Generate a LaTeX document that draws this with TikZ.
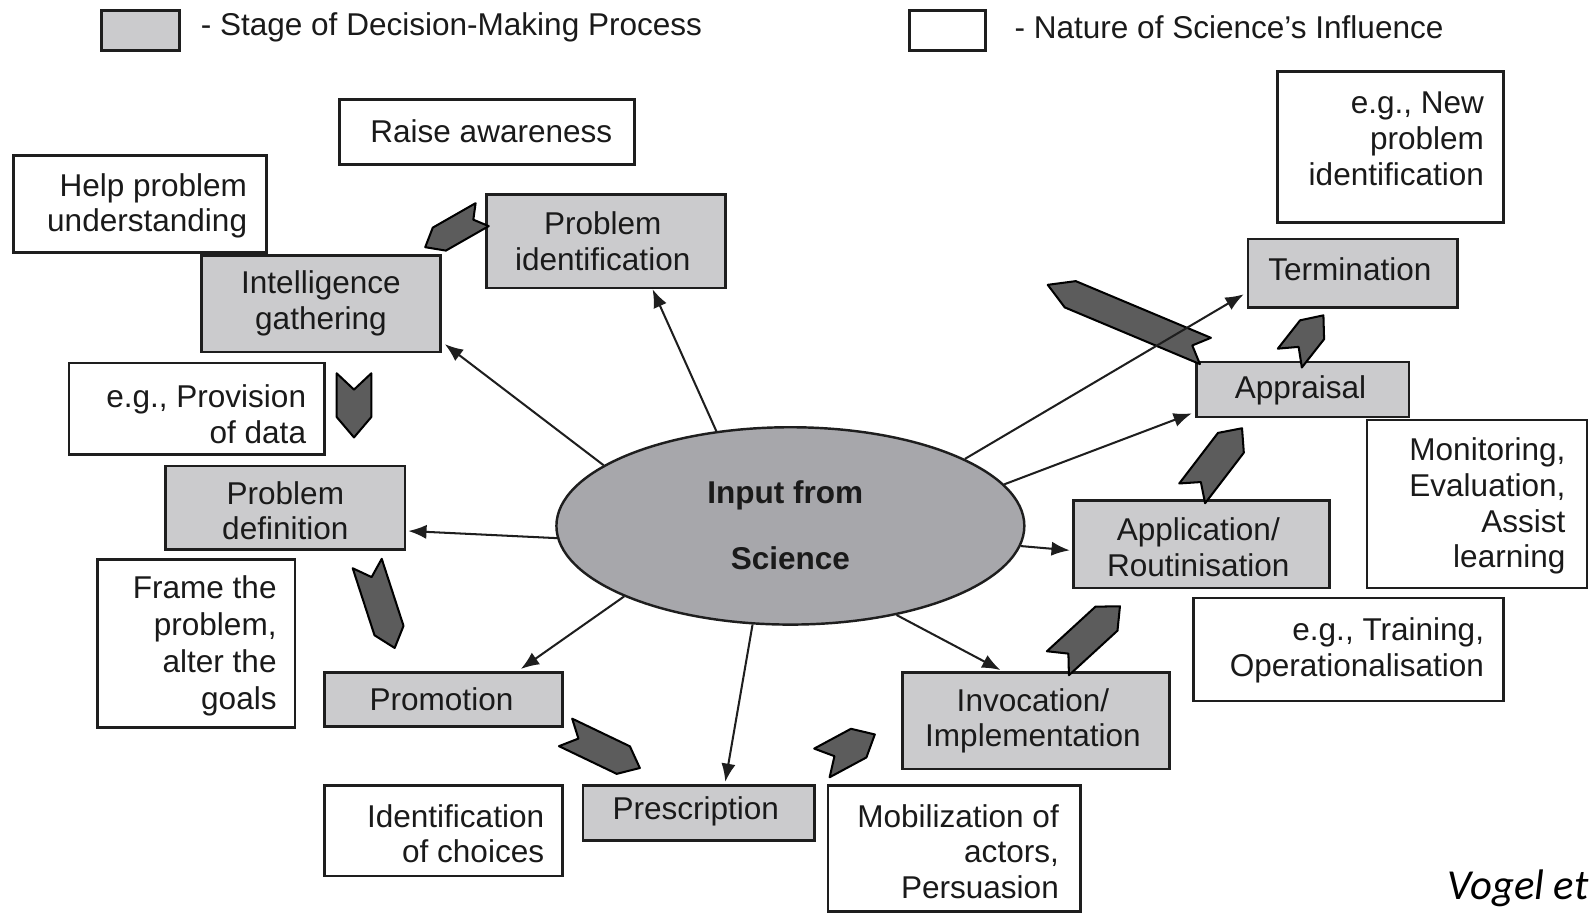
\documentclass[tikz,border=0pt]{standalone}
\usepackage{fontspec}
\setmainfont{Liberation Sans}
\newfontfamily\citefont{Carlito}
\usetikzlibrary{arrows.meta,calc,fit,shapes.geometric}
\definecolor{stagegray}{HTML}{CBCBCD}
\definecolor{ellgray}{HTML}{A7A7AB}
\definecolor{chevgray}{HTML}{5C5C5C}
\definecolor{edgecol}{HTML}{1E1E1E}
\definecolor{txtcol}{HTML}{1A1A1A}
\newcommand\blockarrow[5]{%
  \coordinate (ba-t) at (#1);
  \coordinate (ba-h) at (#2);
  \coordinate (ba-b) at ($(ba-h)!#4!(ba-t)$);
  \coordinate (ba-n) at ($(ba-t)!#5!(ba-h)$);
  \filldraw[blockarr] ($(ba-t)!#3!90:(ba-h)$) -- ($(ba-b)!#3!-90:(ba-t)$) -- (ba-h)
     -- ($(ba-b)!#3!90:(ba-t)$) -- ($(ba-t)!#3!-90:(ba-h)$) -- (ba-n) -- cycle;}
\begin{document}
\begin{tikzpicture}[x=0.5pt,y=-0.5pt,
  every node/.style={font=\fontsize{15.5}{17.5}\selectfont, text=txtcol},
  stage/.style={draw=edgecol,line width=1.3pt,fill=stagegray,inner sep=0pt},
  infl/.style={draw=edgecol,line width=1.3pt,fill=white,inner sep=0pt},
  boxtext/.style={align=center,inner sep=0pt},
  infltext/.style={anchor=east,align=right,inner sep=0pt},
  conn/.style={draw=edgecol,line width=1pt,-{Latex[length=9pt,width=7pt]}},
  blockarr/.style={fill=chevgray,draw=black,line width=1pt,line join=round},
]
\useasboundingbox (0,0) rectangle (1568,900);

% legend
\node[stage, line width=1.5pt, fit={(100,10)(176,50)}] (leg1) {};
\node[anchor=west, inner sep=0pt] (leg1t) at (197,27) {- Stage of Decision-Making Process};
\node[infl, line width=1.5pt, fit={(894,10)(969,50)}] (leg2) {};
\node[anchor=west, inner sep=0pt] (leg2t) at (997,27) {- Nature of Science's Influence};

% central ellipse
\node[ellipse, draw=edgecol, line width=1.2pt, fill=ellgray, minimum width=230pt,
      minimum height=97pt, inner sep=0pt] (sci) at (777,517) {};
\node[font=\bfseries\fontsize{15.5}{17.5}\selectfont] (sci-t1) at (772,487) {Input from};
\node[font=\bfseries\fontsize{15.5}{17.5}\selectfont] (sci-t2) at (777,549) {Science};

% boxes
\node[infl, fit={(334,98)(624,162)}] (raise) {};
\node[boxtext] (raise-t) at ($(raise.center)+(4,-1)$) {Raise awareness};
\node[infl, fit={(13,153)(262,248)}] (help) {};
\node[infltext] (help-t) at ($(help.east)+(-20,2)$) {Help problem\\understanding};
\node[stage, fit={(478,191)(713,283)}] (pid) {};
\node[boxtext] (pid-t) at ($(pid.center)+(-3,0)$) {Problem\\identification};
\node[stage, fit={(198,251)(433,346)}] (ig) {};
\node[boxtext] (ig-t) at (ig.center) {Intelligence\\gathering};
\node[infl, fit={(68,357)(319,447)}] (prov) {};
\node[infltext] (prov-t) at ($(prov.east)+(-19,5)$) {e.g., Provision\\of data};
\node[stage, fit={(163,458)(398,540)}] (pdef) {};
\node[boxtext] (pdef-t) at ($(pdef.center)+(0,3)$) {Problem\\definition};
\node[infl, fit={(96,550)(290,715)}] (frame) {};
\node[infltext, font=\fontsize{15.5}{18.2}\selectfont] (frame-t) at ($(frame.east)+(-19,2)$) {Frame the\\problem,\\alter the\\goals};
\node[stage, fit={(319,661)(553,714)}] (prom) {};
\node[boxtext] (prom-t) at ($(prom.center)+(-2,0)$) {Promotion};
\node[infl, fit={(319,772)(553,861)}] (choice) {};
\node[infltext] (choice-t) at ($(choice.east)+(-19,3)$) {Identification\\of choices};
\node[stage, fit={(573,772)(801,826)}] (presc) {};
\node[boxtext] (presc-t) at ($(presc.center)+(-3,-1)$) {Prescription};
\node[infl, fit={(814,772)(1062,896)}] (mob) {};
\node[infltext] (mob-t) at ($(mob.east)+(-22,3)$) {Mobilization of\\actors,\\Persuasion};
\node[stage, fit={(887,661)(1150,756)}] (inv) {};
\node[boxtext] (inv-t) at ($(inv.center)+(-3,0)$) {Invocation/\\Implementation};
\node[infl, fit={(1173,588)(1478,689)}] (train) {};
\node[infltext] (train-t) at ($(train.east)+(-20,1)$) {e.g., Training,\\Operationalisation};
\node[stage, fit={(1055,492)(1307,578)}] (app) {};
\node[boxtext] (app-t) at ($(app.center)+(-3,3)$) {Application/\\Routinisation};
\node[infl, fit={(1344,413)(1560,578)}] (mon) {};
\node[infltext] (mon-t) at ($(mon.east)+(-22,2)$) {Monitoring,\\Evaluation,\\Assist\\learning};
\node[stage, fit={(1176,356)(1385,410)}] (appr) {};
\node[boxtext] (appr-t) at ($(appr.center)+(-2,1)$) {Appraisal};
\node[stage, fit={(1227,235)(1433,302)}] (term) {};
\node[boxtext] (term-t) at ($(term.center)+(-3,-4)$) {Termination};
\node[infl, fit={(1256,70)(1478,219)}] (newp) {};
\node[infltext] (newp-t) at ($(newp.east)+(-20,-8)$) {e.g., New\\problem\\identification};

% block (chevron) arrows between stages
\blockarrow{474,211}{418,243}{6.5pt}{8pt}{5pt}
\blockarrow{348,367}{348,430}{8.5pt}{10pt}{8pt}
\blockarrow{361,554}{388,637}{7.5pt}{9pt}{7pt}
\blockarrow{556,720}{629,755}{7.5pt}{9pt}{7pt}
\blockarrow{808,750}{860,722}{8pt}{9pt}{7pt}
\blockarrow{1040,652}{1101,596}{8pt}{9pt}{7pt}
\blockarrow{1172,485}{1221,421}{8pt}{9pt}{7pt}
\blockarrow{1268,352}{1301,310}{7.5pt}{9pt}{7pt}
\blockarrow{1185,345}{1030,280}{7pt}{12pt}{7pt}

% connectors from the ellipse
\draw[conn] (sci.128) -- ($(pid.south)+(46,0)$);
\draw[conn] (sci.162.5) -- ($(ig.south east)+(3,-9)$);
\draw[conn] (sci.183) -- ($(pdef.east)+(2,23)$);
\draw[conn] (sci.203) -- ($(prom.north)+(76,-2)$);
\draw[conn] (sci.249) -- ($(presc.north)+(26,-2)$);
\draw[conn] (sci.320) -- ($(inv.north)+(-35,-1)$);
\draw[conn] (sci.355) -- ($(app.west)+(-2,6)$);
\draw[conn] (sci.11) -- ($(appr.south west)+(-3,-5)$);
\draw[conn] (sci.21.5) -- ($(term.south west)+(-3,-14)$);

% citation
\node[anchor=base east, inner sep=0pt, text=black,
      font=\citefont\itshape\fontsize{21}{25}\selectfont] (cite) at (1562,884) {Vogel et};
\end{tikzpicture}
\end{document}
